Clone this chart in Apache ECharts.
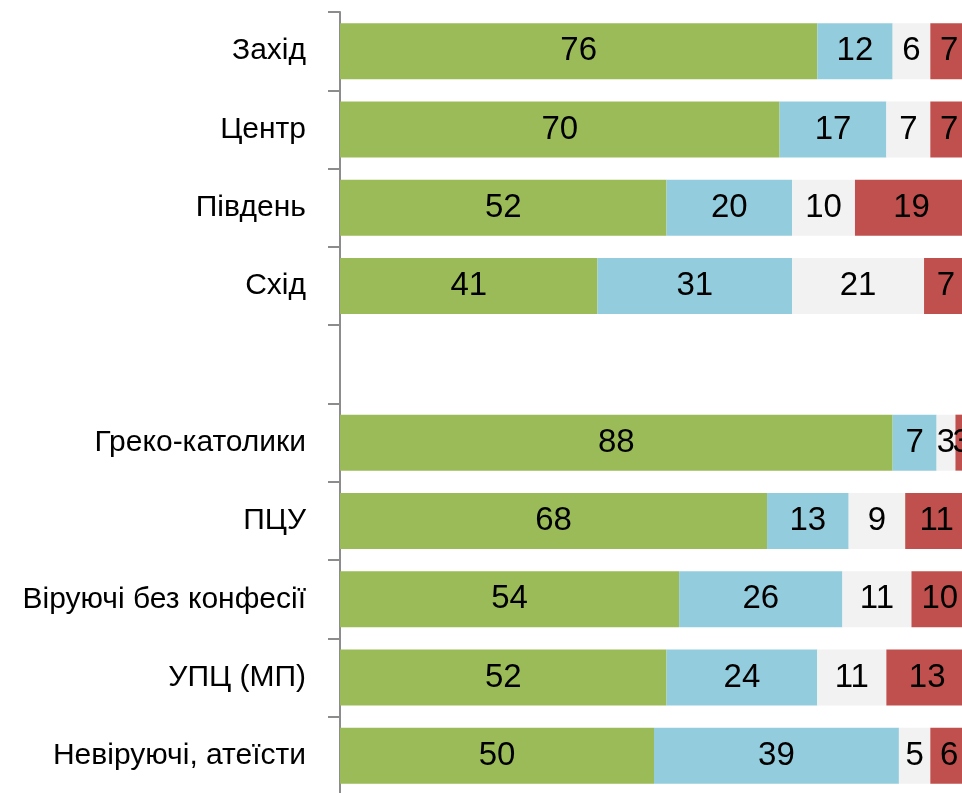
<!DOCTYPE html>
<html>
<head>
<meta charset="utf-8">
<script src="https://cdn.jsdelivr.net/npm/echarts@6/dist/echarts.min.js"></script>
<style>
    html, body { margin: 0; padding: 0; background: #fff; }
    #chart { width: 962px; height: 793px; }
</style>
</head>
<body>
<div id="chart"></div>
<script>
const categories = ['Захід', 'Центр', 'Південь', 'Схід', '', 'Греко-католики', 'ПЦУ', 'Віруючі без конфесії', 'УПЦ (МП)', 'Невіруючі, атеїсти'];

// four answer groups (blank row has no data)
const greenValues = [76, 70, 52, 41, null, 88, 68, 54, 52, 50];
const blueValues = [12, 17, 20, 31, null, 7, 13, 26, 24, 39];
const greyValues = [6, 7, 10, 21, null, 3, 9, 11, 11, 5];
const redValues = [7, 7, 19, 7, null, 3, 11, 10, 13, 6];

const colors = ['#9bbb59', '#93cddd', '#f2f2f2', '#c0504d'];
const font = '"Liberation Sans", Arial, sans-serif';

function makeSeries(name, values, color) {
    return {
        name: name,
        type: 'bar',
        stack: 'total',
        barCategoryGap: '28.5%',
        data: values,
        itemStyle: { color: color },
        label: {
            show: true,
            position: 'inside',
            color: '#000',
            fontSize: 33,
            fontFamily: font
        },
        emphasis: { disabled: true }
    };
}

var chart = echarts.init(document.getElementById('chart'));
var option = {
    animation: false,
    grid: { left: 340, right: -6, top: 12, bottom: -2, outerBoundsMode: 'none', containLabel: false },
    xAxis: {
        type: 'value',
        min: 0,
        max: 100,
        show: false
    },
    yAxis: {
        type: 'category',
        data: categories,
        inverse: true,
        axisLine: { lineStyle: { color: '#8c8c8c', width: 2 } },
        axisTick: { show: true, length: 12, lineStyle: { color: '#8c8c8c', width: 2 } },
        axisLabel: { margin: 34, color: '#000', fontSize: 30, fontFamily: font }
    },
    series: [
        makeSeries('a', greenValues, colors[0]),
        makeSeries('b', blueValues, colors[1]),
        makeSeries('c', greyValues, colors[2]),
        makeSeries('d', redValues, colors[3])
    ]
};
chart.setOption(option);
</script>
</body>
</html>
